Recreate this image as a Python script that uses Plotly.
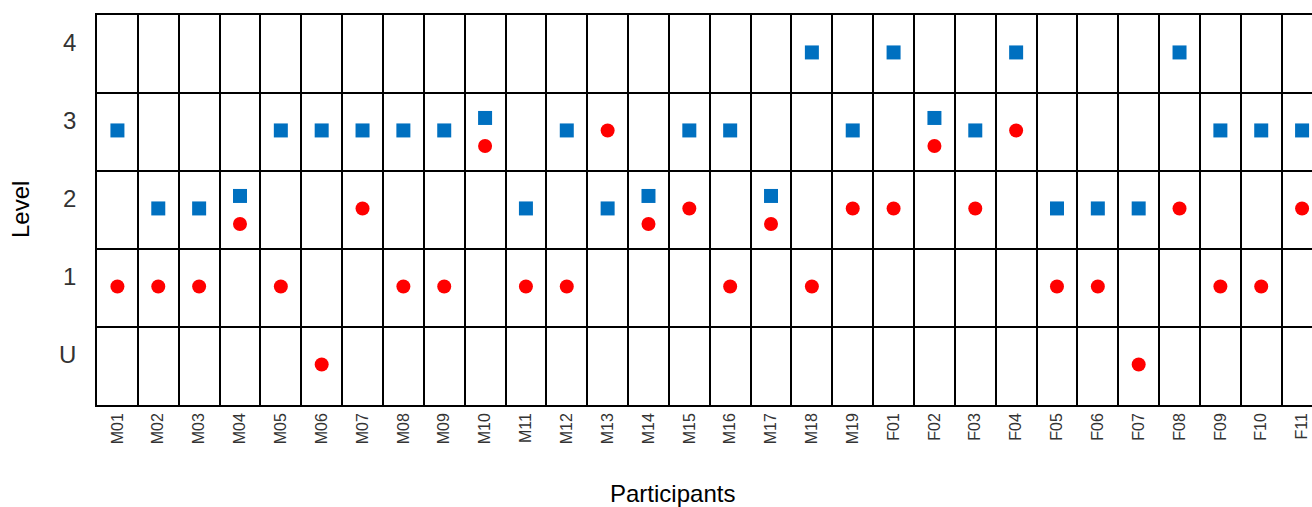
import plotly.graph_objects as go

participants = ["M01", "M02", "M03", "M04", "M05", "M06", "M07", "M08", "M09", "M10",
                "M11", "M12", "M13", "M14", "M15", "M16", "M17", "M18", "M19",
                "F01", "F02", "F03", "F04", "F05", "F06", "F07", "F08", "F09", "F10", "F11"]
level_labels = ["U", "1", "2", "3", "4"]
square_levels = ["3", "2", "2", "2", "3", "3", "3", "3", "3", "3",
                 "2", "3", "2", "2", "3", "3", "2", "4", "3",
                 "4", "3", "3", "4", "2", "2", "2", "4", "3", "3", "3"]
circle_levels = ["1", "1", "1", "2", "1", "U", "2", "1", "1", "3",
                 "1", "1", "3", "2", "2", "1", "2", "1", "2",
                 "2", "3", "2", "3", "1", "1", "U", "2", "1", "1", "2"]

FONT = "Liberation Sans, Arial, sans-serif"
SHIFT = 0.18  # vertical separation when both markers share a cell
LIFT = 0.02

xs = list(range(len(participants)))
sq_y, ci_y = [], []
for s, c in zip(square_levels, circle_levels):
    sv, cv = level_labels.index(s), level_labels.index(c)
    if sv == cv:
        sq_y.append(sv + SHIFT)
        ci_y.append(cv - SHIFT)
    else:
        sq_y.append(sv + LIFT)
        ci_y.append(cv + LIFT)

fig = go.Figure()
fig.add_trace(go.Scatter(x=xs, y=sq_y, mode="markers", name="square",
                         marker=dict(symbol="square", size=14, color="#0070C0")))
fig.add_trace(go.Scatter(x=xs, y=ci_y, mode="markers", name="circle",
                         marker=dict(symbol="circle", size=14, color="#FF0000")))

n = len(participants)
W, H = 1312, 507
L, T, B = 97, 15, 102
PW, PH = W - L, H - T - B
COL = 40.85
fig.update_layout(
    width=W, height=H,
    margin=dict(l=L, r=0, t=T, b=B),
    plot_bgcolor="white", paper_bgcolor="white",
    showlegend=False,
    font=dict(family=FONT),
    xaxis=dict(
        range=[-0.5, -0.5 + PW / COL],
        tickvals=xs, ticktext=participants, tickangle=-90,
        tickfont=dict(size=16, color="#333333"),
        ticks="", ticklabelstandoff=0,
        showgrid=False, zeroline=False,
        showline=True, linecolor="black", linewidth=1.5, mirror=True,
        minor=dict(tickvals=[i - 0.5 for i in range(n + 1)], showgrid=True,
                   gridcolor="black", gridwidth=1.5, ticks=""),
    ),
    yaxis=dict(
        range=[-0.5, 4.5],
        tickvals=[i + 0.15 for i in range(len(level_labels))], ticktext=level_labels,
        tickfont=dict(size=24, color="#333333"),
        ticks="", ticklabelstandoff=14,
        showgrid=False, zeroline=False,
        showline=True, linecolor="black", linewidth=1.5, mirror=False,
        minor=dict(tickvals=[i - 0.5 for i in range(len(level_labels) + 1)], showgrid=True,
                   gridcolor="black", gridwidth=1.5, ticks=""),
    ),
    annotations=[
        dict(text="Level", xref="paper", yref="paper", x=(20 - L) / PW, y=0.5,
             xanchor="center", yanchor="middle", textangle=-90, showarrow=False,
             font=dict(size=24, color="black")),
        dict(text="Participants", xref="paper", yref="paper", x=(672 - L) / PW, y=-88 / PH,
             xanchor="center", yanchor="middle", showarrow=False,
             font=dict(size=24, color="black")),
    ],
)

fig.write_html("out.html", config={"displayModeBar": False},
               post_script="document.body.style.margin='0';document.body.style.overflow='hidden';")
